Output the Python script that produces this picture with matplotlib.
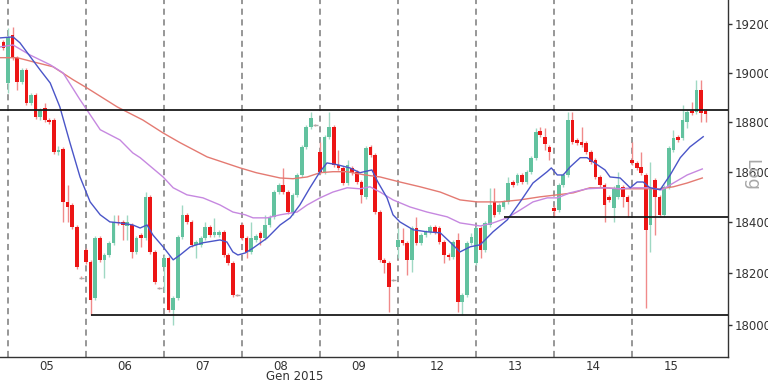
import numpy as np
import matplotlib
matplotlib.use("Agg")
import matplotlib.pyplot as plt
from matplotlib.ticker import FixedLocator, NullLocator, FixedFormatter
from matplotlib.transforms import blended_transform_factory

# ---- data: 30-minute candles, index -1 .. 152 ----
first_index = -1
opens = [19126, 18958, 19154, 19061, 18962, 19011, 18877, 18910, 18821, 18857, 18808,
         18808, 18680, 18692, 18481, 18469, 18382, 18184, 18292, 18245, 18105,
         18339, 18253, 18272, 18320, 18402, 18402, 18386, 18390, 18284, 18350,
         18339, 18501, 18284, 18143, 18225, 18261, 18058, 18105, 18343, 18430,
         18402, 18312, 18312, 18339, 18382, 18350, 18350, 18363, 18272, 18241,
         18116, 18390, 18339, 18284, 18331, 18359, 18339, 18390, 18422, 18520,
         18549, 18520, 18438, 18509, 18588, 18700, 18780, 18789, 18680, 18601,
         18741, 18780, 18629, 18616, 18556, 18616, 18601, 18560, 18501, 18700,
         18668, 18441, 18253, 18241, 18175, 18304, 18331, 18320, 18253, 18378,
         18320, 18350, 18363, 18382, 18378, 18323, 18272, 18264, 18331, 18089,
         18116, 18320, 18241, 18378, 18292, 18390, 18481, 18441, 18461, 18481,
         18560, 18556, 18588, 18560, 18601, 18657, 18764, 18741, 18700, 18457,
         18449, 18549, 18588, 18808, 18728, 18720, 18717, 18680, 18648, 18580,
         18549, 18501, 18457, 18501, 18541, 18501, 18648, 18636, 18620, 18588,
         18390, 18568, 18501, 18430, 18541, 18688, 18741, 18736, 18801, 18845,
         18841, 18930, 18845]
highs = [19134, 19183, 19187, 19068, 19019, 19019, 18918, 18918, 18857, 18877, 18817,
         18817, 18704, 18700, 18549, 18477, 18390, 18190, 18299, 18253, 18347,
         18347, 18280, 18327, 18430, 18430, 18410, 18430, 18398, 18347, 18359,
         18520, 18509, 18292, 18147, 18272, 18268, 18112, 18350, 18469, 18438,
         18410, 18331, 18347, 18402, 18390, 18418, 18371, 18371, 18280, 18249,
         18120, 18398, 18347, 18402, 18355, 18367, 18430, 18430, 18529, 18556,
         18616, 18529, 18517, 18597, 18708, 18789, 18841, 18793, 18720, 18748,
         18841, 18789, 18688, 18624, 18648, 18624, 18608, 18568, 18704, 18708,
         18676, 18449, 18261, 18249, 18180, 18378, 18378, 18327, 18386, 18422,
         18359, 18371, 18390, 18390, 18386, 18331, 18280, 18331, 18359, 18124,
         18327, 18359, 18386, 18386, 18406, 18537, 18537, 18477, 18489, 18580,
         18568, 18597, 18597, 18608, 18664, 18777, 18780, 18777, 18708, 18469,
         18556, 18597, 18841, 18841, 18736, 18780, 18724, 18688, 18657, 18588,
         18556, 18509, 18545, 18601, 18549, 18509, 18720, 18644, 18680, 18597,
         18640, 18576, 18509, 18549, 18704, 18769, 18748, 18869, 18849, 18881,
         18971, 18971, 18853]
lows = [19093, 18918, 19052, 18930, 18954, 18869, 18869, 18813, 18808, 18801, 18793,
        18672, 18668, 18402, 18402, 18374, 18217, 18178, 18237, 18039, 18097,
        18245, 18182, 18264, 18312, 18390, 18331, 18331, 18261, 18276, 18304,
        18331, 18276, 18159, 18139, 18128, 18050, 18000, 18097, 18335, 18394,
        18304, 18261, 18304, 18331, 18343, 18343, 18343, 18264, 18233, 18108,
        18112, 18331, 18261, 18276, 18323, 18312, 18331, 18382, 18414, 18513,
        18513, 18434, 18430, 18501, 18580, 18692, 18772, 18785, 18592, 18592,
        18732, 18620, 18608, 18549, 18549, 18588, 18553, 18477, 18493, 18660,
        18434, 18245, 18202, 18050, 18170, 18261, 18312, 18194, 18206, 18312,
        18312, 18343, 18355, 18355, 18315, 18241, 18253, 18257, 18050, 18039,
        18108, 18312, 18233, 18261, 18284, 18382, 18422, 18434, 18453, 18473,
        18541, 18549, 18553, 18553, 18592, 18648, 18741, 18688, 18648, 18422,
        18441, 18541, 18580, 18712, 18708, 18700, 18672, 18632, 18573, 18541,
        18402, 18481, 18402, 18493, 18461, 18422, 18629, 18608, 18588, 18066,
        18284, 18350, 18422, 18422, 18533, 18680, 18720, 18728, 18777, 18829,
        18833, 18801, 18801]
closes = [19101, 19146, 19061, 18962, 19011, 18877, 18910, 18821, 18849, 18808, 18801,
          18680, 18688, 18481, 18461, 18382, 18225, 18184, 18245, 18097, 18339,
          18253, 18272, 18320, 18402, 18398, 18390, 18402, 18284, 18339, 18339,
          18501, 18284, 18167, 18143, 18261, 18058, 18105, 18343, 18430, 18402,
          18312, 18323, 18339, 18382, 18350, 18363, 18363, 18272, 18241, 18116,
          18116, 18339, 18284, 18339, 18347, 18339, 18390, 18422, 18520, 18549,
          18520, 18441, 18509, 18588, 18700, 18780, 18817, 18789, 18601, 18741,
          18780, 18629, 18616, 18556, 18629, 18597, 18560, 18509, 18696, 18668,
          18441, 18253, 18241, 18147, 18175, 18331, 18320, 18253, 18378, 18320,
          18350, 18363, 18382, 18363, 18323, 18272, 18264, 18323, 18089, 18116,
          18320, 18343, 18378, 18292, 18398, 18469, 18430, 18469, 18481, 18556,
          18549, 18588, 18560, 18601, 18657, 18760, 18748, 18712, 18680, 18445,
          18549, 18588, 18808, 18720, 18717, 18708, 18680, 18640, 18580, 18549,
          18469, 18489, 18537, 18549, 18501, 18481, 18636, 18616, 18597, 18371,
          18537, 18501, 18430, 18541, 18696, 18736, 18728, 18808, 18841, 18837,
          18930, 18837, 18833]

# moving averages (x in candle index units)
ma_fast_x = [-1.7, 1.1, 2.6, 7.0, 9.2, 11.3, 13.5, 15.7, 17.9, 20.1, 22.2, 24.4, 27.2, 28.8, 30.3,
             31.6, 33.8, 36.0, 37.5, 39.7, 42.5, 46.2, 47.7, 49.0, 50.1, 51.7, 53.4, 56.5, 59.3, 61.5,
             63.6, 65.8, 68.0, 69.5, 71.7, 74.5, 76.7, 79.3, 80.6, 82.6, 83.9, 85.4, 88.3, 91.3, 94.2,
             96.3, 98.5, 100.7, 102.9, 105.7, 108.8, 111.6, 114.4, 117.5, 118.4, 119.7, 121.0, 122.5,
             124.7, 126.2, 127.5, 130.1, 131.2, 133.4, 135.6, 137.1, 138.4, 139.9, 142.1, 144.3,
             146.5, 148.6, 151.5]
ma_fast = [19142, 19146, 19122, 19011, 18958, 18861, 18717, 18580, 18481, 18430, 18402, 18398, 18390,
           18378, 18390, 18350, 18304, 18253, 18272, 18304, 18320, 18331, 18323, 18284, 18272, 18280,
           18299, 18339, 18390, 18418, 18469, 18537, 18601, 18636, 18629, 18616, 18597, 18608, 18560,
           18497, 18430, 18402, 18371, 18363, 18359, 18323, 18284, 18304, 18312, 18363, 18410, 18481,
           18556, 18601, 18616, 18588, 18588, 18620, 18657, 18657, 18640, 18608, 18580, 18576, 18537,
           18560, 18560, 18537, 18529, 18588, 18657, 18700, 18741]
ma_mid_x = [-1.7, 1.1, 4.8, 9.2, 12.0, 15.7, 17.2, 20.1, 24.4, 27.2, 28.8, 33.8, 36.0, 39.0, 42.5,
            46.2, 49.0, 51.7, 53.4, 56.5, 59.3, 63.0, 65.2, 68.0, 70.8, 73.9, 76.7, 78.9, 81.1, 83.9,
            87.6, 91.3, 95.7, 98.5, 102.9, 105.7, 108.8, 111.6, 114.4, 117.5, 119.7, 122.5, 126.2,
            130.1, 133.4, 136.3, 139.9, 142.5, 145.0, 148.0, 151.3]
ma_mid = [19105, 19113, 19072, 19032, 18999, 18890, 18849, 18769, 18728, 18676, 18657, 18580, 18537,
          18509, 18497, 18469, 18441, 18430, 18418, 18418, 18430, 18441, 18469, 18497, 18520, 18537,
          18533, 18541, 18520, 18489, 18461, 18441, 18422, 18398, 18386, 18398, 18418, 18449, 18481,
          18497, 18497, 18517, 18533, 18537, 18533, 18537, 18537, 18529, 18556, 18588, 18612]
ma_slow_x = [-1.7, 2.0, 5.5, 9.8, 14.2, 17.2, 23.8, 29.4, 33.8, 37.5, 43.4, 50.6, 54.1, 59.3, 62.1,
             65.2, 68.0, 70.8, 73.9, 77.8, 81.1, 85.4, 89.8, 94.2, 98.5, 102.2, 107.2, 111.6, 115.9,
             119.7, 123.2, 126.8, 130.1, 133.4, 137.8, 142.1, 145.0, 148.0, 151.3]
ma_slow = [19061, 19061, 19044, 19024, 18971, 18938, 18861, 18808, 18756, 18717, 18660, 18616, 18597,
           18576, 18573, 18580, 18597, 18601, 18601, 18588, 18580, 18560, 18541, 18520, 18489, 18481,
           18481, 18489, 18501, 18509, 18517, 18537, 18537, 18533, 18533, 18533, 18541, 18556, 18576]

day_labels = ["05", "06", "07", "08", "09", "12", "13", "14", "15"]
candles_per_day = 17
month_label = "Gen 2015"

# support / resistance levels and the candle index where each starts
levels = [18850, 18420, 18040]
level_starts = [-2, 108, 18]

y_ticks = [18000, 18200, 18400, 18600, 18800, 19000, 19200]

# ---- figure ----
fig = plt.figure(figsize=(7.68, 3.84), dpi=100)
ax = fig.add_axes([0.0, 27 / 384, 728 / 768, 357 / 384])

o = np.array(opens, float)
h = np.array(highs, float)
l = np.array(lows, float)
c = np.array(closes, float)
x = np.arange(first_index, first_index + len(o))

up = c > o
doji = np.abs(c - o) < 1
body_col = np.where(up, "#62c29f", "#ec1515")
wick_col = np.where(up, "#9fd8c3", "#f08a8a")

ax.vlines(x, l, h, colors=wick_col, linewidth=1.0, zorder=2)
nd = ~doji
ax.bar(x[nd], np.abs(c - o)[nd], bottom=np.minimum(o, c)[nd], width=0.8,
       color=body_col[nd], linewidth=0, zorder=3)
ax.hlines(c[doji], x[doji] - 0.5, x[doji] + 0.5, colors="#aaaaaa", linewidth=1.0, zorder=3)

ax.plot(ma_slow_x, ma_slow, color="#e47a72", lw=1.0, zorder=4)
ax.plot(ma_mid_x, ma_mid, color="#c688e0", lw=1.0, zorder=4)
ax.plot(ma_fast_x, ma_fast, color="#4a55c8", lw=1.0, zorder=5)

xmin, xmax = -1.74, 156.9
for lev, st in zip(levels, level_starts):
    ax.hlines(lev, max(st, xmin), xmax, colors="#1a1a1a", linewidth=1.3, zorder=6)

n_days = len(day_labels)
for d in range(n_days):
    ax.axvline(d * candles_per_day, color="#7a7a7a", lw=1.1, ls=(0, (4, 3)), zorder=1)

ax.set_yscale("log")
ax.set_xlim(xmin, xmax)
ax.set_ylim(17877, 19298)

ax.yaxis.tick_right()
ax.yaxis.set_major_locator(FixedLocator(y_ticks))
ax.yaxis.set_major_formatter(FixedFormatter([str(v) for v in y_ticks]))
ax.yaxis.set_minor_locator(NullLocator())
ax.tick_params(axis="y", which="major", length=3, width=1, color="#333333",
               labelsize=8.5, labelcolor="#333333", pad=2)

centers = [d * candles_per_day + 8.5 for d in range(n_days)]
ax.set_xticks(centers)
ax.set_xticklabels(day_labels)
ax.tick_params(axis="x", length=0, labelsize=8.5, labelcolor="#333333", pad=2)

for s in ["left", "top"]:
    ax.spines[s].set_visible(False)
for s in ["right", "bottom"]:
    ax.spines[s].set_color("#333333")
    ax.spines[s].set_linewidth(1.0)

trans = blended_transform_factory(ax.transData, ax.transAxes)
ax.text(62.5, -0.056, month_label, transform=trans, ha="center", va="center",
        fontsize=8.5, color="#333333")

fig.text(751 / 768, 1 - 175 / 384, "Log", rotation=270, ha="center", va="center",
         fontsize=13, color="#a8a8a8")

fig.savefig("out.png", dpi=100)
